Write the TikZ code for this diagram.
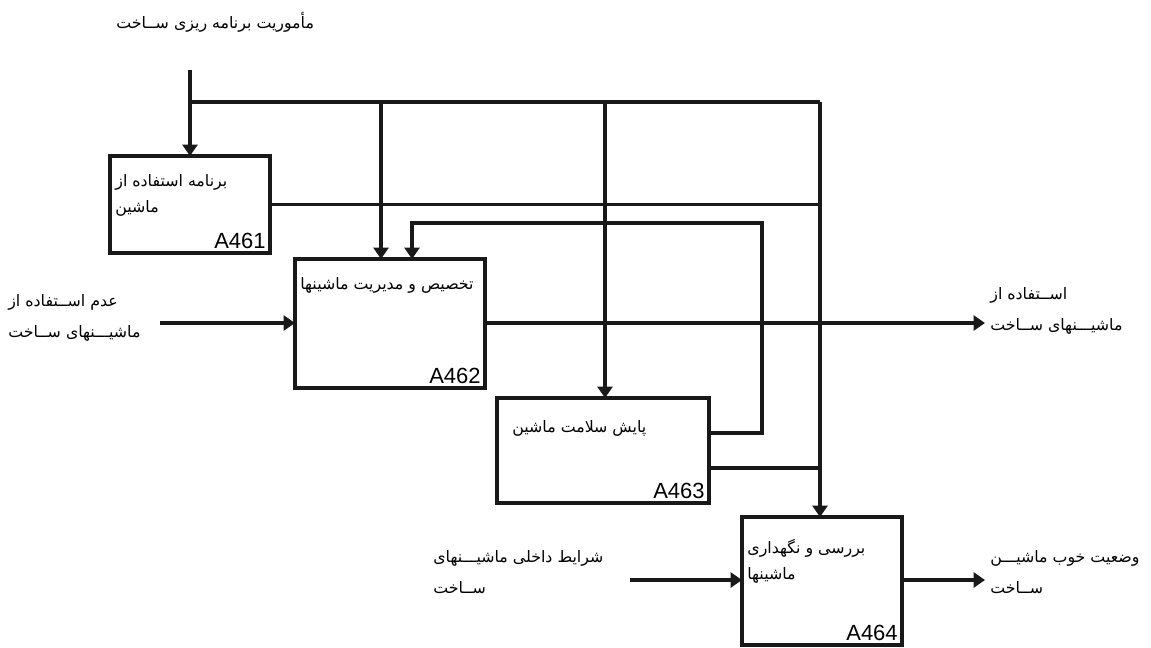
\documentclass[tikz,border=0pt]{standalone}
\usepackage{fontspec}
\setmainfont{Liberation Sans}
\newfontfamily\fa[Script=Arabic]{DejaVu Sans}
\TeXXeTstate=1
\usepackage{tikz}
\usetikzlibrary{arrows.meta, positioning}

\begin{document}
\begin{tikzpicture}[x=0.02cm, y=-0.02cm,
    box/.style={draw=black!90, line width=1.8pt, rectangle, inner sep=0pt, outer sep=0pt},
    flow/.style={draw=black!90, line width=1.8pt},
    tip/.style={-{Triangle[width=8.5pt,length=6.5pt]}},
    title/.style={font=\fa\fontsize{9}{15}\selectfont, align=left, inner sep=0pt, anchor=north west},
    txt/.style={font=\fa\fontsize{9}{18}\selectfont, align=left, inner sep=0pt, anchor=west},
    code/.style={font=\fontsize{12.5}{12.5}\selectfont, inner sep=0pt, anchor=south east}]
\useasboundingbox (0,0) rectangle (1151,647);

% activities
\node[box, minimum width=3.2cm, minimum height=1.94cm] (a461) at (190,204.5) {};
\node[box, minimum width=3.8cm, minimum height=2.58cm] (a462) at (390,323.5) {};
\node[box, minimum width=4.24cm, minimum height=2.1cm] (a463) at (603,450.5) {};
\node[box, minimum width=3.2cm, minimum height=2.56cm] (a464) at (822,581) {};

\node[title, below right=0.36cm and 0.1cm of a461.north west] (t461) {\beginR برنامه استفاده از\endR\\\beginR ماشین\endR};
\node[title, below right=0.36cm and 0.1cm of a462.north west] (t462) {\beginR تخصیص و مدیریت ماشینها\endR};
\node[title, below right=0.44cm and 0.3cm of a463.north west] (t463) {\beginR پایش سلامت ماشین\endR};
\node[title, below right=0.44cm and 0.1cm of a464.north west] (t464) {\beginR بررسی و نگهداری\endR\\\beginR ماشینها\endR};

\node[code, above left=0.08cm and 0.08cm of a461.south east] (c461) {A461};
\node[code, above left=0.08cm and 0.08cm of a462.south east] (c462) {A462};
\node[code, above left=0.08cm and 0.08cm of a463.south east] (c463) {A463};
\node[code, above left=0.08cm and 0.08cm of a464.south east] (c464) {A464};

% outside texts
\node[title] (mission) at (116,12) {\beginR مأموریت برنامه ریزی ســاخت\endR};
\node[txt] (unused) at (8,318) {\beginR عدم اســتفاده از\endR\\\beginR ماشیـــنهای ســاخت\endR};
\node[txt] (used) at (990,311) {\beginR اســتفاده از\endR\\\beginR ماشیـــنهای ســاخت\endR};
\node[txt] (inner) at (433,572) {\beginR شرایط داخلی ماشیـــنهای\endR\\\beginR ســاخت\endR};
\node[txt] (good) at (990,572) {\beginR وضعیت خوب ماشیـــن\endR\\\beginR ســاخت\endR};

% control line
\coordinate (top) at (190,70);
\coordinate (j1) at (190,102);
\coordinate (j2) at (381,102);
\coordinate (j3) at (605,102);
\coordinate (j4) at (820,102);
\draw[flow] (top) -- (j1) -- (j4);
\draw[flow, tip] (j1) -- (j1 |- a461.north);
\draw[flow, tip] (j2) -- (j2 |- a462.north);
\draw[flow, tip] (j3) -- (j3 |- a463.north);
\draw[flow, tip] (j4) -- (j4 |- a464.north);

% outputs joining the control line
\draw[flow] (a461.east) -- (a461.east -| j4);
\coordinate (fb) at (762,433);
\coordinate (fbtop) at (412,223);
\draw[flow, tip] (a463.east |- fb) -- (fb) |- (fbtop) -- (fbtop |- a462.north);
\draw[flow] (a463.east |- 0,468) -- (j4 |- 0,468);

% inputs and outputs
\coordinate (in2) at (160,323);
\coordinate (out2) at (985,323);
\coordinate (in4) at (630,580);
\coordinate (out4) at (985,580);
\draw[flow, tip] (in2) -- (in2 -| a462.west);
\draw[flow, tip] (a462.east |- out2) -- (out2);
\draw[flow, tip] (in4) -- (in4 -| a464.west);
\draw[flow, tip] (a464.east |- out4) -- (out4);
\end{tikzpicture}
\end{document}
